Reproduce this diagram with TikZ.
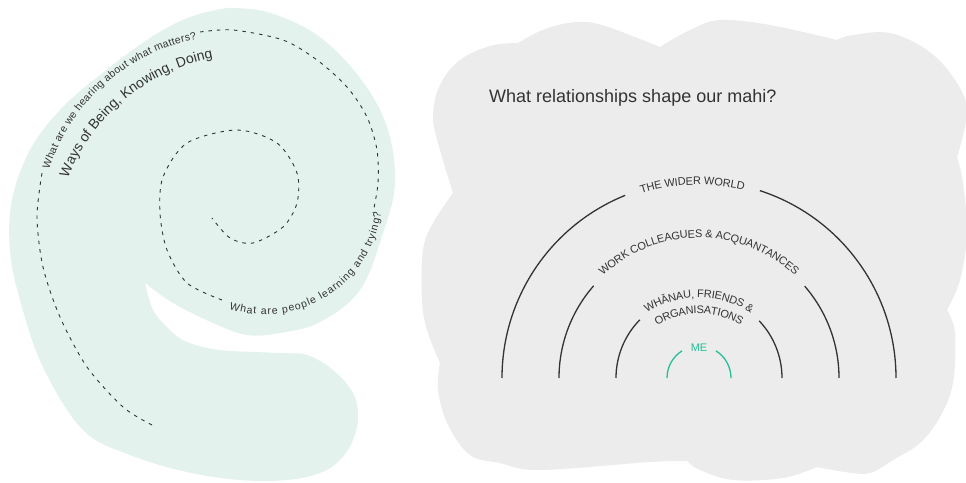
\documentclass[tikz,border=0pt]{standalone}
\usepackage{fontspec}
\setmainfont{Liberation Sans}
\usepackage{tikz}
\usetikzlibrary{decorations.text}
\definecolor{mint}{RGB}{227,242,236}
\definecolor{cloudgrey}{RGB}{236,236,236}
\definecolor{ink}{RGB}{51,51,51}
\definecolor{megreen}{RGB}{40,190,150}
\newcommand\ringfont{\fontsize{11}{13}\selectfont}
\newcommand\askfont{\fontsize{10.5}{12}\selectfont}
\newcommand\waysfont{\fontsize{14}{16}\selectfont}

\begin{document}
\begin{tikzpicture}[
    x=1pt, y=1pt,
    spiral/.style={ink, line width=0.9pt, dash pattern=on 3.5pt off 5pt},
    ring/.style={ink, line width=1.3pt},
    arctext/.style={decorate, decoration={text along path, text color=ink, text align=center, raise=-3.8pt}},
    spiraltext/.style={decorate, decoration={text along path, text color=ink, text align=fit to path}}
]
\useasboundingbox[fill=white] (0,0) rectangle (966,482);

% mint swirl on the left, notch tip at (145,199)
\fill[mint] plot[smooth, tension=0.6] coordinates {(227,474) (267,470) (317,447) (360,404) (387,355) (395,299) (383,249) (360,192) (320,160) (280,149) (247,147) (213,159) (173,179) (145,199)}
  -- plot[smooth, tension=0.6] coordinates {(145,199) (153,172) (170,152) (187,140) (220,132) (280,129) (307,127) (333,112) (353,89) (358,65) (353,42) (340,22) (320,9) (287,2) (240,2) (187,10) (130,27) (83,52) (43,115) (20,182) (10,232) (12,282) (30,332) (60,372) (100,407) (150,444) (190,465) (227,474)}
  -- cycle;

% grey cloud on the right
\fill[cloudgrey] plot[smooth, tension=0.6] coordinates {(453,289) (440,332) (433,365) (440,397) (460,422) (490,436) (518,439)}
  -- plot[smooth, tension=0.6] coordinates {(518,439) (545,453) (577,460) (605,456) (660,435)}
  -- plot[smooth, tension=0.6] coordinates {(660,435) (690,452) (720,462) (770,457) (837,442)}
  -- plot[smooth, tension=0.6] coordinates {(837,442) (853,447) (890,449) (927,432) (953,405) (967,372) (957,325)}
  -- plot[smooth, tension=0.6] coordinates {(957,325) (963,299) (967,249) (960,202) (947,172)}
  -- plot[smooth, tension=0.6] coordinates {(947,172) (955,149) (953,99) (940,65) (920,39) (893,22) (870,9) (845,10) (817,15)}
  -- plot[smooth, tension=0.6] coordinates {(817,15) (783,4) (733,2) (700,12) (687,21)}
  -- plot[smooth, tension=0.6] coordinates {(687,21) (650,20) (540,12) (500,19) (470,27) (448,57) (438,92) (440,119)}
  -- plot[smooth, tension=0.6] coordinates {(440,119) (427,152) (422,182) (423,232) (433,259) (453,289)}
  -- cycle;

% dashed spiral, three pieces between the two questions
\draw[spiral] plot[smooth] coordinates {(152,57) (123,75) (87,115) (60,165) (43,215) (37,265) (42,309)};
\draw[spiral] plot[smooth] coordinates {(200,450) (233,452) (283,442) (317,422) (347,395) (367,365) (377,332) (378,299) (373,269)};
\draw[spiral] plot[smooth] coordinates {(222,182) (187,199) (167,232) (160,269) (163,305) (187,339) (237,352) (277,339) (297,309) (297,279) (283,255) (253,239) (230,244) (212,264)};

% questions along the spiral
\coordinate (sa) at (233.3,252.9);
\coordinate (sb) at (249.5,231.7);
\coordinate (sc) at (264.6,285);
\path[spiraltext, decoration={raise=-6.5pt, text={|\askfont|What are we hearing about what matters?}}]
  ([shift={(162:200)}]sa) arc[start angle=162, end angle=101, radius=200];
\path[decorate, decoration={text along path, text color=ink, text align=left, text={|\waysfont|Ways of Being, Knowing, Doing}}]
  ([shift={(158.3:195.4)}]sb) arc[start angle=158.3, end angle=92, radius=195.4];
\path[spiraltext, decoration={raise=-3pt, text={|\askfont|What are people learning and trying?}}]
  ([shift={(252.4:114.4)}]sc) arc[start angle=252.4, end angle=352.5, radius=114.4];

% relationship rings
\node[anchor=base west, inner sep=0, text=ink, font=\fontsize{18}{21}\selectfont] (title) at (489,379) {What relationships shape our mahi?};
\coordinate (c) at (699,104);
\coordinate (cl) at (699,88);

\draw[ring] ([shift={(180:197)}]c) arc[start angle=180, end angle=112, radius=197];
\draw[ring] ([shift={(72:197)}]c) arc[start angle=72, end angle=0, radius=197];
\draw[ring] ([shift={(180:140)}]c) arc[start angle=180, end angle=138.8, radius=140];
\draw[ring] ([shift={(41:140)}]c) arc[start angle=41, end angle=0, radius=140];
\draw[ring] ([shift={(180:83)}]c) arc[start angle=180, end angle=135.5, radius=83];
\draw[ring] ([shift={(43.5:83)}]c) arc[start angle=43.5, end angle=0, radius=83];
\draw[ring, megreen] ([shift={(180:32)}]c) arc[start angle=180, end angle=122, radius=32];
\draw[ring, megreen] ([shift={(58:32)}]c) arc[start angle=58, end angle=0, radius=32];

\path[arctext, decoration={text={|\ringfont|THE WIDER WORLD}}] ([shift={(152:197)}]c) arc[start angle=152, end angle=32, radius=197];
\path[arctext, decoration={text={|\ringfont|WORK COLLEAGUES {\&} ACQUANTANCES}}] ([shift={(160:144)}]c) arc[start angle=160, end angle=20, radius=144];
\path[arctext, decoration={text={|\ringfont|WHĀNAU, FRIENDS {\&}}}] ([shift={(170:100)}]cl) arc[start angle=170, end angle=10, radius=100];
\path[arctext, decoration={text={|\ringfont|ORGANISATIONS}}] ([shift={(170:84)}]cl) arc[start angle=170, end angle=10, radius=84];
\node[text=megreen, font=\ringfont] (me) at (699,134) {ME};
\end{tikzpicture}
\end{document}
